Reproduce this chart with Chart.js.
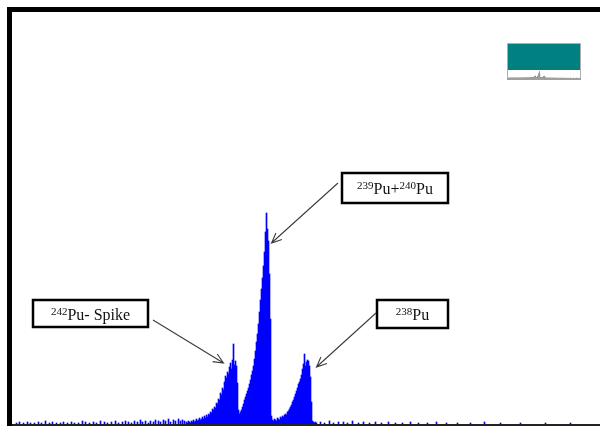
<!DOCTYPE html>
<html>
<head>
<meta charset="utf-8">
<script src="https://cdn.jsdelivr.net/npm/chart.js@4"></script>
<style>
  html, body { margin: 0; padding: 0; background: #fff; }
  canvas { display: block; }
</style>
</head>
<body>
<canvas id="spec" width="600" height="426"></canvas>
<script>
// Alpha spectrum of Pu: counts per channel
const peakStartChannel = 174;
const peakCounts = [
  2, 1, 3, 2, 1, 3, 2, 4, 2, 3,
  5, 3, 4, 6, 4, 5, 7, 5, 8, 6,
  9, 7, 10, 9, 12, 11, 15, 14, 17, 16,
  21, 20, 25, 24, 31, 29, 36, 34, 42, 48,
  46, 52, 50, 57, 61, 55, 64, 80, 59, 63,
  58, 41, 14, 10, 12, 14, 17, 20, 24, 27,
  30, 33, 36, 40, 44, 49, 53, 58, 65, 73,
  82, 90, 100, 112, 124, 135, 146, 158, 172, 192,
  211, 195, 183, 150, 105, 8, 4, 3, 5, 4,
  3, 6, 5, 4, 7, 6, 8, 7, 9, 10,
  9, 12, 13, 15, 17, 19, 22, 24, 27, 30,
  33, 36, 40, 42, 45, 49, 55, 60, 70, 58,
  62, 64, 63, 58, 47, 22, 3, 2, 1, 2,
  1
];
const noiseChannels = [
  4, 7, 11, 15, 18, 22, 26, 29, 33, 37,
  40, 44, 48, 51, 55, 59, 62, 66, 70, 73,
  77, 81, 84, 88, 92, 95, 99, 103, 106, 110,
  113, 116, 119, 122, 125, 128, 130, 133, 136, 138,
  141, 143, 146, 148, 151, 153, 156, 158, 161, 163,
  166, 168, 170, 172,
  308, 312, 317, 321, 326, 331, 335, 340, 346, 351,
  357, 363, 369, 376, 383, 390, 398, 406, 415, 424,
  434, 445, 458, 472, 488, 508, 533, 558
];
const noiseCounts = [
  1, 2, 1, 2, 1, 1, 2, 1, 3, 1,
  2, 1, 1, 2, 1, 2, 1, 1, 3, 2,
  1, 2, 1, 3, 2, 1, 2, 3, 1, 2,
  3, 2, 1, 3, 2, 4, 2, 3, 1, 3,
  2, 4, 3, 2, 4, 3, 5, 2, 4, 3,
  5, 3, 4, 3,
  2, 1, 3, 1, 2, 2, 1, 3, 1, 2,
  1, 2, 1, 2, 1, 1, 2, 1, 1, 2,
  1, 1, 1, 2, 1, 1, 1, 1
];
const channelCount = 588;
const countMax = 412;

// Peak labels: text parts, box, arrow start and the channel/count the arrow points at
const labels = [
  { parts: [['242', true], ['Pu- Spike', false]], box: [33, 300, 115, 27], from: [153, 320], at: [211, 61] },
  { parts: [['239', true], ['Pu+', false], ['240', true], ['Pu', false]], box: [342, 173, 106, 30], from: [338, 183], at: [259, 181] },
  { parts: [['238', true], ['Pu', false]], box: [377, 300, 71, 28], from: [376, 313], at: [304, 57] }
];

const points = [];
peakCounts.forEach((v, i) => points.push({ x: peakStartChannel + i, y: v }));
noiseChannels.forEach((c, i) => points.push({ x: c, y: noiseCounts[i] }));
points.sort((a, b) => a.x - b.x);

const mainFont = '16px "Liberation Serif"';
const supFont = '11px "Liberation Serif"';

function drawLabelText(ctx, parts, x, y) {
  let cx = x;
  parts.forEach(([t, sup]) => {
    ctx.font = sup ? supFont : mainFont;
    ctx.fillText(t, cx, sup ? y - 5 : y);
    cx += ctx.measureText(t).width;
  });
  return cx - x;
}

function measureParts(ctx, parts) {
  let w = 0;
  parts.forEach(([t, sup]) => {
    ctx.font = sup ? supFont : mainFont;
    w += ctx.measureText(t).width;
  });
  return w;
}

function arrow(ctx, x1, y1, x2, y2) {
  const ang = Math.atan2(y2 - y1, x2 - x1);
  const len = 11, spread = 0.42;
  ctx.beginPath();
  ctx.moveTo(x1, y1);
  ctx.lineTo(x2, y2);
  ctx.moveTo(x2 - len * Math.cos(ang - spread), y2 - len * Math.sin(ang - spread));
  ctx.lineTo(x2, y2);
  ctx.lineTo(x2 - len * Math.cos(ang + spread), y2 - len * Math.sin(ang + spread));
  ctx.stroke();
}

const decor = {
  id: 'decor',
  beforeDraw(chart) {
    const ctx = chart.ctx;
    ctx.save();
    ctx.fillStyle = '#fff';
    ctx.fillRect(0, 0, chart.width, chart.height);
    ctx.restore();
  },
  afterDraw(chart) {
    const ctx = chart.ctx;
    const xs = chart.scales.x, ys = chart.scales.y;
    ctx.save();
    // frame
    ctx.fillStyle = '#000';
    ctx.fillRect(7, 7, 593, 5);
    ctx.fillRect(7, 7, 5, 419);
    ctx.fillStyle = '#222';
    ctx.fillRect(12, 424, 588, 2);

    // labels with arrows
    labels.forEach(l => {
      const [bx, by, bw, bh] = l.box;
      ctx.fillStyle = '#fff';
      ctx.fillRect(bx, by, bw, bh);
      ctx.strokeStyle = '#000';
      ctx.lineWidth = 2.5;
      ctx.strokeRect(bx, by, bw, bh);
      ctx.fillStyle = '#111';
      ctx.textBaseline = 'alphabetic';
      const w = measureParts(ctx, l.parts);
      drawLabelText(ctx, l.parts, bx + (bw - w) / 2, by + bh / 2 + 6);
      ctx.strokeStyle = '#3c3c3c';
      ctx.lineWidth = 1.1;
      arrow(ctx, l.from[0], l.from[1], xs.getPixelForValue(l.at[0]), ys.getPixelForValue(l.at[1]));
    });

    // overview thumbnail
    const tx = 507, ty = 43, tw = 74, th = 37;
    ctx.fillStyle = '#fff';
    ctx.fillRect(tx, ty, tw, th);
    ctx.fillStyle = '#008080';
    ctx.fillRect(tx + 1, ty + 1, tw - 2, 26);
    ctx.strokeStyle = '#b0b0b0';
    ctx.lineWidth = 1;
    ctx.strokeRect(tx + 0.5, ty + 0.5, tw - 1, th - 1);
    ctx.fillStyle = '#9a9a9a';
    points.forEach(p => {
      const px = tx + 1 + p.x * (tw - 2) / channelCount;
      const h = Math.max(0.6, p.y / 211 * 7);
      ctx.fillRect(px, ty + th - 2 - h, 0.6, h);
    });
    ctx.fillStyle = '#a0a0a0';
    ctx.fillRect(tx, ty + th - 2, tw, 2);
    ctx.restore();
  }
};

new Chart(document.getElementById('spec'), {
  type: 'bar',
  data: {
    datasets: [{
      data: points,
      backgroundColor: '#0000ff',
      borderWidth: 0,
      barPercentage: 1,
      categoryPercentage: 1
    }]
  },
  options: {
    responsive: false,
    animation: false,
    devicePixelRatio: 1,
    layout: { padding: { left: 12, top: 12, right: 0, bottom: 2 } },
    plugins: { legend: { display: false }, tooltip: { enabled: false } },
    scales: {
      x: { type: 'linear', min: -0.5, max: channelCount - 0.5, display: false, offset: false },
      y: { min: 0, max: countMax, display: false }
    }
  },
  plugins: [decor]
});
</script>
</body>
</html>
